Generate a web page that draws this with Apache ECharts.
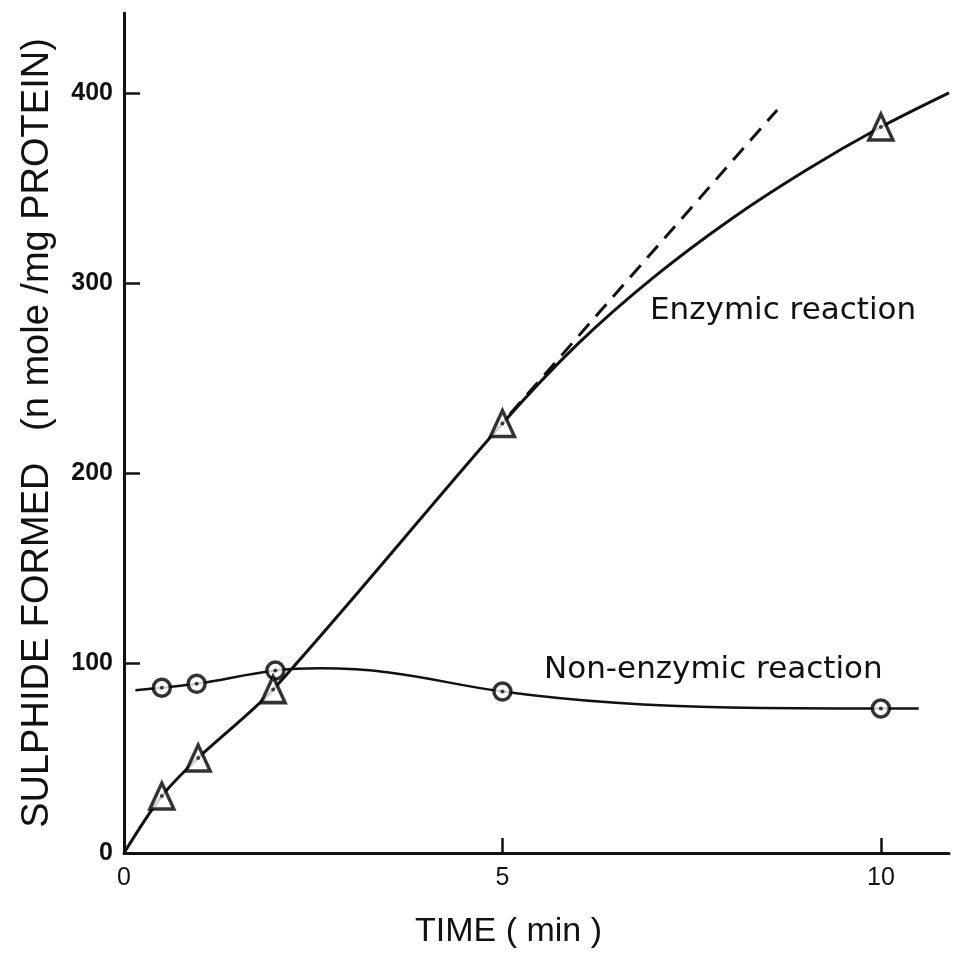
<!DOCTYPE html>
<html><head><meta charset="utf-8">
<style>html,body{margin:0;padding:0;background:#fff}#c{width:955px;height:954px}</style>
<script src="https://cdn.jsdelivr.net/npm/echarts@6/dist/echarts.min.js"></script>
</head><body><div id="c"></div>
<script>
// Measured points
const enzTime = [0.5, 0.98, 1.97, 5, 10];
const enzValues = [30, 50, 86, 226, 382];
const nonTime = [0.5, 0.96, 2, 5, 10];
const nonValues = [87, 89, 96, 85, 76];
// Curves
const enzCurve = [[0,0],[0.5,30],[0.98,50],[1.97,86],[5,226],[6,268],[7,303],[8,333],[9,359],[10,382],[10.9,400]];
const nonCurve = [[0.15,85.6],[0.5,87],[0.96,89],[2,96],[2.6,97.2],[3.5,95],[5,85],[6.5,79],[8,76.5],[10,76],[10.5,76]];
const tangent = [[5.1,231],[8.63,391]];
const xTicks = [0, 5, 10];
const yTicks = [0, 100, 200, 300, 400];
const labels = [
  {text: 'Enzymic reaction', at: [6.95, 284]},
  {text: 'Non-enzymic reaction', at: [5.55, 95]}
];
const yName = 'SULPHIDE FORMED   (n mole /mg PROTEIN)';
const xName = 'TIME ( min )';

const FONT = 'Liberation Sans';
const LFONT = 'DejaVu Sans';
const chart = echarts.init(document.getElementById('c'), null, {renderer: 'canvas'});
const toPairs = (xs, ys) => xs.map((x, i) => [x, ys[i]]);
chart.setOption({
  animation: false,
  backgroundColor: '#fff',
  grid: {left: 124, right: 6, top: 13, bottom: 99, containLabel: false},
  xAxis: {
    type: 'value', min: 0, max: 10.9, interval: 5,
    name: xName, nameLocation: 'middle', nameGap: 62,
    nameTextStyle: {fontFamily: FONT, fontSize: 34, color: '#111', padding: [0, 56, 0, 0]},
    axisLine: {lineStyle: {color: '#111', width: 3}},
    axisTick: {show: true, inside: true, length: 15, lineStyle: {color: '#111', width: 2.5},
      customValues: [5, 10]},
    axisLabel: {fontFamily: FONT, fontSize: 25, color: '#111', margin: 13,
      customValues: xTicks},
    splitLine: {show: false}
  },
  yAxis: {
    type: 'value', min: 0, max: 442, interval: 100,
    name: yName, nameLocation: 'middle', nameGap: 67, nameRotate: 90,
    nameTextStyle: {fontFamily: FONT, fontSize: 38, color: '#111'},
    axisLine: {show: true, lineStyle: {color: '#111', width: 3}},
    axisTick: {show: true, inside: true, length: 16, lineStyle: {color: '#111', width: 2.5},
      customValues: [100, 200, 300, 400]},
    axisLabel: {show: false},
    splitLine: {show: false}
  },
  series: [
    {type: 'line', data: enzCurve, smooth: 0.3, symbol: 'none', lineStyle: {color: '#111', width: 3}, z: 2},
    {type: 'line', data: tangent, symbol: 'none', lineStyle: {color: '#111', width: 3, type: [16, 10]}, z: 2},
    {type: 'line', data: nonCurve, smooth: 0.4, symbol: 'none', lineStyle: {color: '#111', width: 2.5}, z: 2},
    {type: 'scatter', data: toPairs(enzTime, enzValues), symbol: 'triangle', symbolSize: [24, 26],
      itemStyle: {color: '#fff', borderColor: '#000', borderWidth: 3.5}, z: 4},
    {type: 'scatter', data: toPairs(nonTime, nonValues), symbol: 'circle', symbolSize: 17,
      itemStyle: {color: '#fff', borderColor: '#000', borderWidth: 3.5}, z: 3},
    {type: 'scatter', data: toPairs(enzTime, enzValues).concat(toPairs(nonTime, nonValues)), symbol: 'circle', symbolSize: 4,
      itemStyle: {color: '#111'}, z: 5}
  ]
});
const g = labels.map(l => {
  const p = chart.convertToPixel({gridIndex: 0}, l.at);
  return {type: 'text', x: p[0], y: p[1] - 18,
    style: {text: l.text, fontFamily: LFONT, fontSize: 31, fill: '#111'}};
});
yTicks.forEach(v => {
  const p = chart.convertToPixel({gridIndex: 0}, [0, v]);
  g.push({type: 'text', x: p[0] - 11, y: p[1],
    style: {text: String(v), fontFamily: FONT, fontSize: 25, fontWeight: 'bold', fill: '#111',
      align: 'right', verticalAlign: 'middle'}});
});
chart.setOption({graphic: g});
</script></body></html>
